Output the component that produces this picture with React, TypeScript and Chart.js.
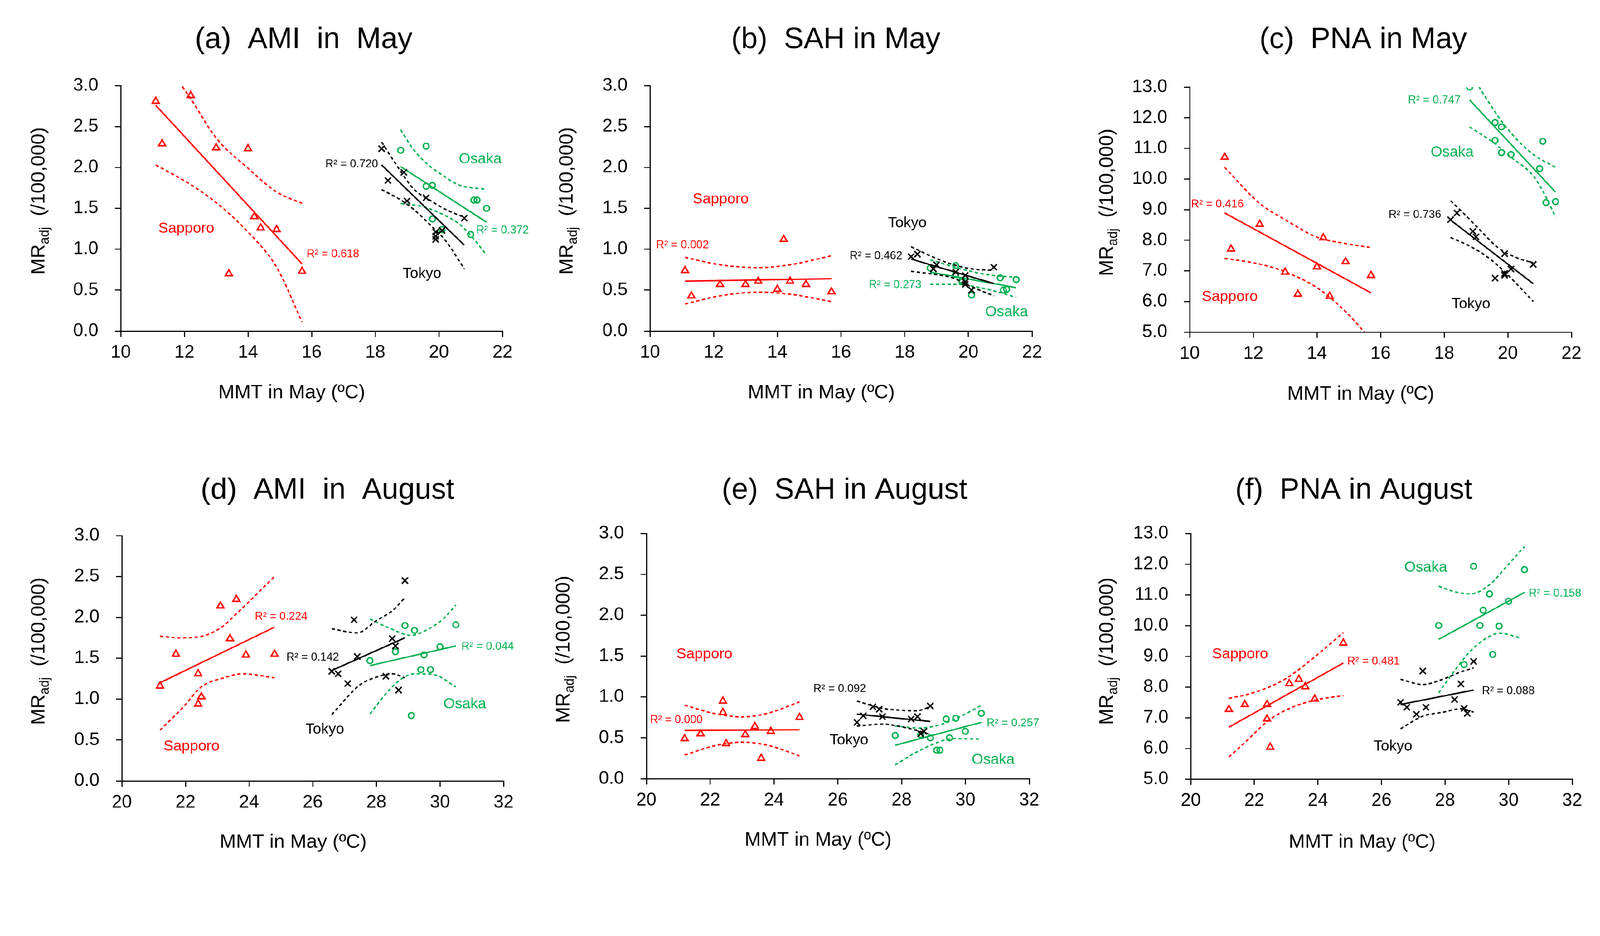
import { useEffect, useRef } from 'react';
import { Chart, registerables } from 'chart.js';

Chart.register(...registerables);

const FONT = '"Liberation Sans", Arial, sans-serif';
const RED = '#FF0000';
const GREEN = '#00B050';
const BLACK = '#000000';
const SP = '\u00A0';

// MMT values (x) for each city
const sapporoMayX = [11.1, 11.3, 12.2, 13.0, 13.4, 14.0, 14.2, 14.4, 14.9, 15.7];
const tokyoMayX = [18.2, 18.4, 18.9, 19.0, 19.6, 19.9, 19.9, 19.9, 20.1, 20.8];
const osakaMayX = [18.8, 19.6, 19.6, 19.8, 19.8, 20.1, 21.0, 21.1, 21.2, 21.5];
const sapporoAugX = [21.2, 21.7, 22.4, 22.4, 22.5, 23.1, 23.4, 23.6, 23.9, 24.8];
const tokyoAugX = [26.6, 26.8, 27.1, 27.3, 27.4, 28.3, 28.5, 28.6, 28.7, 28.9];
const osakaAugX = [27.8, 28.6, 28.9, 29.1, 29.2, 29.4, 29.5, 29.7, 30.0, 30.5];

// (a) AMI in May
const amiMaySapporo = [2.81, 2.29, 2.88, 2.24, 0.70, 2.23, 1.40, 1.26, 1.24, 0.73];
const amiMayTokyo = [2.23, 1.84, 1.94, 1.59, 1.63, 1.21, 1.12, 1.16, 1.23, 1.38];
const amiMayOsaka = [2.21, 2.26, 1.77, 1.78, 1.37, 1.24, 1.18, 1.60, 1.60, 1.50];
const amiMaySapporoFit = [[11.1, 2.76], [15.7, 0.82]];
const amiMayTokyoFit = [[18.2, 2.03], [20.8, 1.05]];
const amiMayOsakaFit = [[18.8, 2.01], [21.5, 1.33]];
const amiMaySapporoUp = [[11.1, 3.45], [12.2, 2.84], [13.0, 2.36], [14.0, 1.99], [14.9, 1.70], [15.7, 1.56]];
const amiMaySapporoLo = [[11.1, 2.03], [12.2, 1.79], [13.0, 1.57], [14.0, 1.21], [14.9, 0.78], [15.7, 0.11]];
const amiMayTokyoUp = [[18.2, 2.31], [18.7, 2.01], [19.2, 1.74], [19.8, 1.58], [20.25, 1.48], [20.8, 1.39]];
const amiMayTokyoLo = [[18.2, 1.73], [18.85, 1.59], [19.2, 1.49], [19.8, 1.27], [20.2, 1.11], [20.8, 0.76]];
const amiMayOsakaUp = [[18.8, 2.46], [19.2, 2.22], [19.7, 2.02], [20.1, 1.91], [20.6, 1.79], [21.5, 1.73]];
const amiMayOsakaLo = [[18.8, 1.56], [19.5, 1.52], [20.1, 1.43], [20.6, 1.32], [21.0, 1.17], [21.5, 0.93]];

// (b) SAH in May
const sahMaySapporo = [0.74, 0.43, 0.57, 0.57, 0.61, 0.51, 1.12, 0.61, 0.57, 0.48];
const sahMayTokyo = [0.91, 0.94, 0.76, 0.81, 0.72, 0.68, 0.57, 0.60, 0.50, 0.78];
const sahMayOsaka = [0.77, 0.80, 0.69, 0.60, 0.62, 0.44, 0.65, 0.50, 0.51, 0.63];
const sahMaySapporoFit = [[11.1, 0.61], [15.7, 0.64]];
const sahMayTokyoFit = [[18.2, 0.88], [20.8, 0.58]];
const sahMayOsakaFit = [[18.8, 0.72], [21.5, 0.53]];
const sahMaySapporoUp = [[11.1, 0.90], [12.2, 0.81], [13.4, 0.775], [14.4, 0.81], [15.7, 0.92]];
const sahMaySapporoLo = [[11.1, 0.33], [12.2, 0.43], [13.4, 0.475], [14.4, 0.45], [15.7, 0.36]];
const sahMayTokyoUp = [[18.2, 1.03], [18.8, 0.92], [19.45, 0.82], [20.1, 0.76], [20.8, 0.74]];
const sahMayTokyoLo = [[18.2, 0.73], [18.8, 0.70], [19.5, 0.65], [20.1, 0.54], [20.8, 0.43]];
const sahMayOsakaUp = [[18.8, 0.87], [19.5, 0.79], [20.3, 0.71], [21.0, 0.67], [21.5, 0.66]];
const sahMayOsakaLo = [[18.8, 0.57], [19.7, 0.57], [20.3, 0.535], [21.0, 0.47], [21.5, 0.41]];

// (c) PNA in May
const pnaMaySapporo = [10.71, 7.71, 8.52, 6.96, 6.24, 7.13, 8.08, 6.17, 7.30, 6.85];
const pnaMayTokyo = [8.67, 8.89, 8.29, 8.11, 6.76, 7.56, 6.91, 6.86, 7.06, 7.21];
const pnaMayOsaka = [13.0, 11.84, 11.26, 11.70, 10.86, 10.80, 10.34, 11.23, 9.23, 9.26];
const pnaMaySapporoFit = [[11.1, 8.89], [15.7, 6.28]];
const pnaMayTokyoFit = [[18.2, 8.66], [20.8, 6.58]];
const pnaMayOsakaFit = [[18.8, 12.58], [21.5, 9.57]];
const pnaMaySapporoUp = [[11.1, 10.38], [12.2, 9.2], [13.0, 8.67], [14.0, 8.10], [14.9, 7.89], [15.7, 7.76]];
const pnaMaySapporoLo = [[11.1, 7.41], [12.2, 7.22], [13.0, 6.97], [14.0, 6.45], [14.9, 5.67], [15.7, 4.75]];
const pnaMayTokyoUp = [[18.2, 9.29], [18.6, 8.89], [19.1, 8.36], [19.7, 7.75], [20.3, 7.42], [20.8, 7.26]];
const pnaMayTokyoLo = [[18.2, 8.09], [18.8, 7.81], [19.35, 7.46], [19.85, 7.02], [20.3, 6.55], [20.8, 6.0]];
const pnaMayOsakaUp = [[18.8, 13.5], [19.6, 12.19], [20.1, 11.5], [20.8, 10.8], [21.5, 10.38]];
const pnaMayOsakaLo = [[18.8, 11.70], [19.6, 11.15], [20.1, 10.71], [20.8, 10.1], [21.2, 9.41], [21.5, 8.76]];

// (d) AMI in August
const amiAugSapporo = [1.16, 1.55, 1.31, 0.94, 1.03, 2.14, 1.74, 2.22, 1.54, 1.55];
const amiAugTokyo = [1.34, 1.31, 1.19, 1.97, 1.52, 1.28, 1.74, 1.65, 1.11, 2.45];
const amiAugOsaka = [1.47, 1.58, 1.90, 0.80, 1.84, 1.36, 1.54, 1.36, 1.64, 1.91];
const amiAugSapporoFit = [[21.2, 1.20], [24.8, 1.88]];
const amiAugTokyoFit = [[26.6, 1.35], [28.9, 1.75]];
const amiAugOsakaFit = [[27.8, 1.41], [30.5, 1.65]];
const amiAugSapporoUp = [[21.2, 1.77], [21.8, 1.75], [22.4, 1.76], [23.1, 1.87], [23.7, 2.08], [24.8, 2.50]];
const amiAugSapporoLo = [[21.2, 0.62], [21.9, 0.89], [22.5, 1.15], [23.2, 1.26], [23.8, 1.31], [24.8, 1.26]];
const amiAugTokyoUp = [[26.6, 1.86], [27.4, 1.81], [28.0, 1.96], [28.5, 2.08], [28.9, 2.24]];
const amiAugTokyoLo = [[26.6, 0.81], [27.1, 1.03], [27.5, 1.18], [28.1, 1.28], [28.5, 1.31], [28.9, 1.26]];
const amiAugOsakaUp = [[27.8, 1.98], [28.4, 1.87], [29.1, 1.78], [29.65, 1.86], [30.1, 1.98], [30.5, 2.15]];
const amiAugOsakaLo = [[27.8, 0.82], [28.4, 1.11], [28.8, 1.25], [29.2, 1.31], [29.8, 1.30], [30.5, 1.15]];

// (e) SAH in August
const sahAugSapporo = [0.49, 0.55, 0.95, 0.81, 0.43, 0.54, 0.64, 0.25, 0.58, 0.75];
const sahAugTokyo = [0.69, 0.77, 0.88, 0.85, 0.76, 0.73, 0.76, 0.55, 0.58, 0.89];
const sahAugOsaka = [0.53, 0.54, 0.50, 0.35, 0.35, 0.73, 0.50, 0.74, 0.58, 0.80];
const sahAugSapporoFit = [[21.2, 0.59], [24.8, 0.60]];
const sahAugTokyoFit = [[26.6, 0.79], [28.9, 0.70]];
const sahAugOsakaFit = [[27.8, 0.41], [30.5, 0.69]];
const sahAugSapporoUp = [[21.2, 0.90], [22.1, 0.80], [23.0, 0.756], [23.8, 0.80], [24.8, 0.94]];
const sahAugSapporoLo = [[21.2, 0.29], [22.1, 0.40], [23.0, 0.447], [23.8, 0.41], [24.8, 0.28]];
const sahAugTokyoUp = [[26.6, 0.95], [27.4, 0.86], [27.9, 0.84], [28.45, 0.83], [28.9, 0.88]];
const sahAugTokyoLo = [[26.6, 0.644], [27.4, 0.668], [27.9, 0.644], [28.45, 0.593], [28.9, 0.542]];
const sahAugOsakaUp = [[27.8, 0.644], [28.55, 0.62], [29.2, 0.66], [29.85, 0.763], [30.5, 0.898]];
const sahAugOsakaLo = [[27.8, 0.17], [28.45, 0.322], [29.1, 0.44], [29.6, 0.49], [30.5, 0.485]];

// (f) PNA in August
const pnaAugSapporo = [7.27, 7.43, 7.43, 6.96, 6.04, 8.11, 8.25, 8.01, 7.61, 9.43];
const pnaAugTokyo = [7.50, 7.34, 7.11, 8.52, 7.34, 7.59, 8.10, 7.30, 7.14, 8.83];
const pnaAugOsaka = [10.0, 8.73, 11.93, 10.0, 10.5, 11.03, 9.06, 9.98, 10.79, 11.82];
const pnaAugSapporoFit = [[21.2, 6.69], [24.8, 8.78]];
const pnaAugTokyoFit = [[26.6, 7.43], [28.9, 7.90]];
const pnaAugOsakaFit = [[27.8, 9.55], [30.5, 11.08]];
const pnaAugSapporoUp = [[21.2, 7.63], [21.75, 7.75], [22.45, 7.99], [23.05, 8.31], [23.7, 8.81], [24.8, 9.77]];
const pnaAugSapporoLo = [[21.2, 5.72], [21.75, 6.24], [22.45, 6.91], [23.15, 7.32], [23.9, 7.57], [24.8, 7.72]];
const pnaAugTokyoUp = [[26.6, 8.25], [27.3, 8.08], [27.95, 8.26], [28.5, 8.49], [28.9, 8.62]];
const pnaAugTokyoLo = [[26.6, 6.64], [27.3, 7.05], [27.95, 7.18], [28.5, 7.29], [28.9, 7.18]];
const pnaAugOsakaUp = [[27.8, 11.28], [28.3, 11.10], [28.8, 11.03], [29.4, 11.33], [30.0, 12.0], [30.5, 12.57]];
const pnaAugOsakaLo = [[27.8, 7.81], [28.3, 8.53], [28.8, 9.17], [29.35, 9.62], [29.7, 9.75], [30.4, 9.59]];

type Label = { text: string; x: number; y: number; color: string; size: number };
type Series = { color: string; marker: string; x: number[]; y: number[]; fit: number[][]; up: number[][]; lo: number[][] };
type Panel = {
  title: string;
  xMin: number; xMax: number; yMin: number; yMax: number; yStep: number;
  w: number; h: number; left: number; top: number; right: number; bottom: number;
  titleX: number; titleY: number; xtX: number; xtY: number; ytX: number; ytY: number;
  series: Series[];
  labels: Label[];
};

const sap = (x: number[], y: number[], fit: number[][], up: number[][], lo: number[][]): Series =>
  ({ color: RED, marker: 'triangle', x, y, fit, up, lo });
const tok = (x: number[], y: number[], fit: number[][], up: number[][], lo: number[][]): Series =>
  ({ color: BLACK, marker: 'crossRot', x, y, fit, up, lo });
const osa = (x: number[], y: number[], fit: number[][], up: number[][], lo: number[][]): Series =>
  ({ color: GREEN, marker: 'circle', x, y, fit, up, lo });

const city = (text: string, x: number, y: number, color: string): Label => ({ text, x, y, color, size: 41 });
const r2 = (text: string, x: number, y: number, color: string): Label => ({ text, x, y, color, size: 31 });

const panels: Panel[] = [
  {
    title: `(a)${SP}${SP}AMI${SP}${SP}in${SP}${SP}May`, xMin: 10, xMax: 22, yMin: 0, yMax: 3, yStep: 0.5,
    w: 1480, h: 1200, left: 334, top: 237, right: 1390, bottom: 916,
    titleX: 840, titleY: 110, xtX: 807, xtY: 1087, ytX: 104, ytY: 556,
    series: [
      sap(sapporoMayX, amiMaySapporo, amiMaySapporoFit, amiMaySapporoUp, amiMaySapporoLo),
      tok(tokyoMayX, amiMayTokyo, amiMayTokyoFit, amiMayTokyoUp, amiMayTokyoLo),
      osa(osakaMayX, amiMayOsaka, amiMayOsakaFit, amiMayOsakaUp, amiMayOsakaLo),
    ],
    labels: [
      city('Sapporo', 12.06, 1.25, RED), r2('R² = 0.618', 16.67, 0.94, RED),
      r2('R² = 0.720', 17.26, 2.04, BLACK), city('Tokyo', 19.47, 0.70, BLACK),
      city('Osaka', 21.3, 2.10, GREEN), r2('R² = 0.372', 22.0, 1.23, GREEN),
    ],
  },
  {
    title: `(b)${SP}${SP}SAH in May`, xMin: 10, xMax: 22, yMin: 0, yMax: 3, yStep: 0.5,
    w: 1480, h: 1200, left: 318, top: 237, right: 1375, bottom: 916,
    titleX: 832, titleY: 110, xtX: 792, xtY: 1087, ytX: 85, ytY: 556,
    series: [
      sap(sapporoMayX, sahMaySapporo, sahMaySapporoFit, sahMaySapporoUp, sahMaySapporoLo),
      tok(tokyoMayX, sahMayTokyo, sahMayTokyoFit, sahMayTokyoUp, sahMayTokyoLo),
      osa(osakaMayX, sahMayOsaka, sahMayOsakaFit, sahMayOsakaUp, sahMayOsakaLo),
    ],
    labels: [
      city('Sapporo', 12.22, 1.61, RED), r2('R² = 0.002', 11.02, 1.05, RED),
      city('Tokyo', 18.08, 1.32, BLACK), r2('R² = 0.462', 17.1, 0.915, BLACK),
      r2('R² = 0.273', 17.7, 0.564, GREEN), city('Osaka', 21.2, 0.23, GREEN),
    ],
  },
  {
    title: `(c)${SP}${SP}PNA in May`, xMin: 10, xMax: 22, yMin: 5, yMax: 13, yStep: 1,
    w: 1466, h: 1200, left: 331, top: 241, right: 1387, bottom: 919,
    titleX: 811, titleY: 110, xtX: 804, xtY: 1091, ytX: 99, ytY: 560,
    series: [
      sap(sapporoMayX, pnaMaySapporo, pnaMaySapporoFit, pnaMaySapporoUp, pnaMaySapporoLo),
      tok(tokyoMayX, pnaMayTokyo, pnaMayTokyoFit, pnaMayTokyoUp, pnaMayTokyoLo),
      osa(osakaMayX, pnaMayOsaka, pnaMayOsakaFit, pnaMayOsakaUp, pnaMayOsakaLo),
    ],
    labels: [
      r2('R² = 0.747', 17.69, 12.57, GREEN), city('Osaka', 18.25, 10.87, GREEN),
      r2('R² = 0.416', 10.87, 9.17, RED), r2('R² = 0.736', 17.08, 8.83, BLACK),
      city('Sapporo', 11.26, 6.15, RED), city('Tokyo', 18.84, 5.91, BLACK),
    ],
  },
  {
    title: `(d)${SP}${SP}AMI${SP}${SP}in${SP}${SP}August`, xMin: 20, xMax: 32, yMin: 0, yMax: 3, yStep: 0.5,
    w: 1480, h: 1197, left: 337, top: 282, right: 1393, bottom: 961,
    titleX: 906, titleY: 157, xtX: 811, xtY: 1131, ytX: 104, ytY: 602,
    series: [
      sap(sapporoAugX, amiAugSapporo, amiAugSapporoFit, amiAugSapporoUp, amiAugSapporoLo),
      tok(tokyoAugX, amiAugTokyo, amiAugTokyoFit, amiAugTokyoUp, amiAugTokyoLo),
      osa(osakaAugX, amiAugOsaka, amiAugOsakaFit, amiAugOsakaUp, amiAugOsakaLo),
    ],
    labels: [
      r2('R² = 0.224', 25.01, 2.01, RED), r2('R² = 0.142', 26.0, 1.51, BLACK),
      r2('R² = 0.044', 31.5, 1.64, GREEN), city('Osaka', 30.78, 0.94, GREEN),
      city('Tokyo', 26.38, 0.63, BLACK), city('Sapporo', 22.19, 0.42, RED),
    ],
  },
  {
    title: `(e)${SP}${SP}SAH in August`, xMin: 20, xMax: 32, yMin: 0, yMax: 3, yStep: 0.5,
    w: 1480, h: 1197, left: 308, top: 276, right: 1367, bottom: 955,
    titleX: 856, titleY: 157, xtX: 783, xtY: 1125, ytX: 76, ytY: 597,
    series: [
      sap(sapporoAugX, sahAugSapporo, sahAugSapporoFit, sahAugSapporoUp, sahAugSapporoLo),
      tok(tokyoAugX, sahAugTokyo, sahAugTokyoFit, sahAugTokyoUp, sahAugTokyoLo),
      osa(osakaAugX, sahAugOsaka, sahAugOsakaFit, sahAugOsakaUp, sahAugOsakaLo),
    ],
    labels: [
      city('Sapporo', 21.82, 1.52, RED), r2('R² = 0.092', 26.06, 1.10, BLACK),
      r2('R² = 0.000', 20.94, 0.72, RED), city('Tokyo', 26.35, 0.47, BLACK),
      r2('R² = 0.257', 31.49, 0.68, GREEN), city('Osaka', 30.87, 0.23, GREEN),
    ],
  },
  {
    title: `(f)${SP}${SP}PNA in August`, xMin: 20, xMax: 32, yMin: 5, yMax: 13, yStep: 1,
    w: 1466, h: 1197, left: 334, top: 276, right: 1389, bottom: 956,
    titleX: 785, titleY: 157, xtX: 808, xtY: 1131, ytX: 99, ytY: 602,
    series: [
      sap(sapporoAugX, pnaAugSapporo, pnaAugSapporoFit, pnaAugSapporoUp, pnaAugSapporoLo),
      tok(tokyoAugX, pnaAugTokyo, pnaAugTokyoFit, pnaAugTokyoUp, pnaAugTokyoLo),
      osa(osakaAugX, pnaAugOsaka, pnaAugOsakaFit, pnaAugOsakaUp, pnaAugOsakaLo),
    ],
    labels: [
      city('Osaka', 27.39, 11.89, GREEN), r2('R² = 0.158', 31.46, 11.04, GREEN),
      city('Sapporo', 21.55, 9.06, RED), r2('R² = 0.481', 25.75, 8.83, RED),
      r2('R² = 0.088', 29.99, 7.86, BLACK), city('Tokyo', 26.36, 6.06, BLACK),
    ],
  },
];

const toPts = (pairs: number[][]) => pairs.map(([x, y]) => ({ x, y }));

function buildDatasets(p: Panel): any[] {
  const out: any[] = [];
  for (const s of p.series) {
    out.push({
      data: s.x.map((x, i) => ({ x, y: s.y[i] })),
      showLine: false,
      pointStyle: s.marker,
      pointRadius: s.marker === 'triangle' ? 11 : s.marker === 'crossRot' ? 12 : 8,
      pointBorderWidth: 4,
      pointBorderColor: s.color,
      pointBackgroundColor: 'rgba(0,0,0,0)',
    });
    out.push({
      data: toPts(s.fit), showLine: true, pointRadius: 0,
      borderColor: s.color, borderWidth: 4,
    });
    for (const band of [s.up, s.lo]) {
      out.push({
        data: toPts(band), showLine: true, pointRadius: 0,
        borderColor: s.color, borderWidth: 4, borderDash: [9, 7],
        cubicInterpolationMode: 'monotone',
      });
    }
  }
  return out;
}

function PanelChart({ p, x, y }: { p: Panel; x: number; y: number }) {
  const ref = useRef<HTMLCanvasElement | null>(null);
  useEffect(() => {
    if (!ref.current) return;
    const textPlugin = {
      id: 'panelText',
      afterDraw(chart: any) {
        const ctx = chart.ctx as CanvasRenderingContext2D;
        ctx.save();
        ctx.textAlign = 'center';
        ctx.textBaseline = 'middle';
        ctx.fillStyle = BLACK;
        ctx.font = `82px ${FONT}`;
        ctx.fillText(p.title, p.titleX, p.titleY);
        ctx.font = `54px ${FONT}`;
        ctx.fillText('MMT in May (ºC)', p.xtX, p.xtY);
        for (const l of p.labels) {
          ctx.font = `${l.size}px ${FONT}`;
          ctx.fillStyle = l.color;
          ctx.fillText(l.text, chart.scales.x.getPixelForValue(l.x), chart.scales.y.getPixelForValue(l.y));
        }
        // rotated y-axis title with subscript
        ctx.fillStyle = BLACK;
        ctx.translate(p.ytX, p.ytY);
        ctx.rotate(-Math.PI / 2);
        ctx.textAlign = 'left';
        ctx.textBaseline = 'alphabetic';
        const big = `54px ${FONT}`;
        const small = `36px ${FONT}`;
        const tail = `${SP}${SP}(/100,000)`;
        ctx.font = big;
        const w1 = ctx.measureText('MR').width;
        const w3 = ctx.measureText(tail).width;
        ctx.font = small;
        const w2 = ctx.measureText('adj').width;
        let cx = -(w1 + w2 + w3) / 2;
        const base = 19;
        ctx.font = big;
        ctx.fillText('MR', cx, base);
        cx += w1;
        ctx.font = small;
        ctx.fillText('adj', cx, base + 12);
        cx += w2;
        ctx.font = big;
        ctx.fillText(tail, cx, base);
        ctx.restore();
      },
    };
    const axisGrid = { display: true, drawOnChartArea: false, drawTicks: true, tickLength: 16, color: BLACK, lineWidth: 3 };
    const chart = new Chart(ref.current, {
      type: 'scatter',
      data: { datasets: buildDatasets(p) },
      options: {
        responsive: false,
        animation: false,
        events: [],
        layout: { padding: { left: 0, top: p.top, right: p.w - p.right, bottom: 0 } },
        plugins: { legend: { display: false }, tooltip: { enabled: false }, title: { display: false } },
        scales: {
          x: {
            type: 'linear', min: p.xMin, max: p.xMax,
            afterFit: (s: any) => { s.height = p.h - p.bottom; },
            ticks: { stepSize: 2, color: BLACK, font: { family: FONT, size: 50 }, padding: 14, maxRotation: 0, autoSkip: false },
            grid: axisGrid,
            border: { display: true, color: BLACK, width: 3 },
          },
          y: {
            type: 'linear', min: p.yMin, max: p.yMax,
            afterFit: (s: any) => { s.width = p.left; },
            ticks: {
              stepSize: p.yStep, color: BLACK, font: { family: FONT, size: 50 }, padding: 46,
              callback: (v: any) => Number(v).toFixed(1),
            },
            grid: axisGrid,
            border: { display: true, color: BLACK, width: 3 },
          },
        },
      },
      plugins: [textPlugin],
    } as any);
    return () => chart.destroy();
  }, [p]);
  return (
    <canvas
      ref={ref}
      width={p.w}
      height={p.h}
      style={{ position: 'absolute', left: x, top: y, width: p.w, height: p.h }}
    />
  );
}

export default function App() {
  const cols = [0, 1480, 2960];
  const rows = [0, 1200];
  // fit the 4426x2397 layout into whatever viewport the page actually has
  const scale = Math.min(window.innerWidth / 4426, window.innerHeight / 2397);
  return (
    <div
      style={{
        position: 'absolute', left: 0, top: 0, width: 4426 * scale, height: 2397 * scale,
        overflow: 'hidden', background: '#fff',
      }}
    >
      <div style={{ position: 'absolute', left: 0, top: 0, width: 4426, height: 2397, transform: `scale(${scale})`, transformOrigin: '0 0' }}>
        {panels.map((p, i) => (
          <PanelChart key={i} p={p} x={cols[i % 3]} y={rows[Math.floor(i / 3)]} />
        ))}
      </div>
    </div>
  );
}
